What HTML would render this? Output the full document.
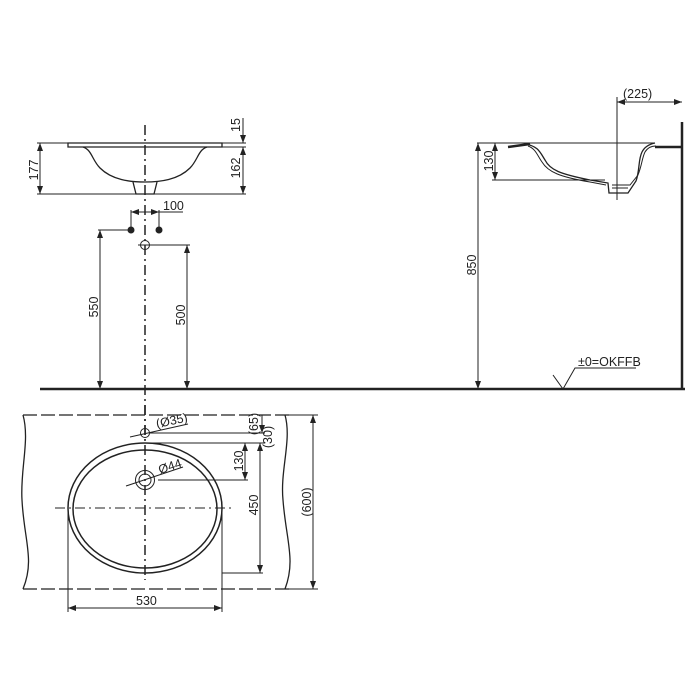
<!DOCTYPE html>
<html><head><style>body{margin:0;background:#fff}svg{display:block}text{font-family:"Liberation Sans",sans-serif;font-size:12.5px;fill:#222}</style></head><body>
<svg width="700" height="700" viewBox="0 0 700 700" xmlns="http://www.w3.org/2000/svg">
<defs><marker id="a" markerWidth="8" markerHeight="6" refX="8" refY="3" orient="auto-start-reverse" markerUnits="userSpaceOnUse"><path d="M0,0 L8,3 L0,6z" fill="#222"/></marker></defs>
<g stroke="#222" fill="none" stroke-width="1">
<path d="M68,143 H222 V147 H68 Z" stroke-width="1.3"/>
<path d="M83,147 C92,150 92,160 100,168 C112,180 130,182 145,182 C160,182 178,180 190,168 C198,160 198,150 207,147" stroke-width="1.3"/>
<path d="M133,182 L136,194 H154 L157,182" stroke-width="1.3"/>
<line x1="37" y1="143" x2="246" y2="143"/><line x1="222" y1="147" x2="246" y2="147"/>
<line x1="37" y1="194" x2="246" y2="194"/>
<line x1="40" y1="143" x2="40" y2="194" marker-start="url(#a)" marker-end="url(#a)"/>
<line x1="243" y1="118" x2="243" y2="143" marker-end="url(#a)"/>
<line x1="243" y1="147" x2="243" y2="194" marker-start="url(#a)" marker-end="url(#a)"/>
<line x1="145" y1="125" x2="145" y2="440" stroke-dasharray="10,4,2,4" stroke-width="1.5"/>
<line x1="131" y1="210" x2="131" y2="230"/><line x1="159" y1="210" x2="159" y2="230"/>
<line x1="131" y1="212" x2="159" y2="212" marker-start="url(#a)" marker-end="url(#a)"/>
<line x1="159" y1="212" x2="183" y2="212"/>
<line x1="98" y1="230" x2="131" y2="230"/>
<line x1="100" y1="230" x2="100" y2="389" marker-start="url(#a)" marker-end="url(#a)"/>
<circle cx="145" cy="245" r="4.5"/><line x1="138" y1="245" x2="190" y2="245"/>
<line x1="187" y1="245" x2="187" y2="389" marker-start="url(#a)" marker-end="url(#a)"/>
<line x1="40" y1="389" x2="685" y2="389" stroke-width="2.5"/>
<line x1="682" y1="122" x2="682" y2="389" stroke-width="2.5"/>
<line x1="477" y1="143" x2="655" y2="143"/>
<line x1="617" y1="97" x2="617" y2="200"/>
<line x1="617" y1="102" x2="682" y2="102" marker-start="url(#a)" marker-end="url(#a)"/>
<line x1="478" y1="143" x2="478" y2="389" marker-start="url(#a)" marker-end="url(#a)"/>
<line x1="492" y1="180" x2="605" y2="180"/>
<line x1="495" y1="143" x2="495" y2="180" marker-start="url(#a)" marker-end="url(#a)"/>
<path d="M508,147 L530,144" stroke-width="2.5"/>
<path d="M655,147 H682" stroke-width="2.5"/>
<path d="M525,144 C538,146 540,152 545,160 C550,170 560,174 590,180 L608,183 L609,193 H628 L636,181 C640,170 638,160 642,152 C645,146 650,144 655,143" stroke-width="1.3"/>
<path d="M528,146 C536,149 537,155 542,162 C548,172 560,177 590,182 L606,185 M612,185 H630 L638,175 C642,165 642,158 645,152 C648,147 652,146 656,146" stroke-width="1"/>
<path d="M612,188 H628" />
<path d="M553,375 L563,389 L575,368 H636"/>
<line x1="23" y1="415" x2="290" y2="415" stroke-dasharray="14,4" stroke-width="1.3"/>
<line x1="23" y1="589" x2="290" y2="589" stroke-dasharray="14,4" stroke-width="1.3"/>
<path d="M23,415 C30,440 20,470 22,500 C24,540 35,560 23,589" stroke-width="1.3"/>
<path d="M285,415 C292,440 280,470 283,500 C286,540 296,560 285,589" stroke-width="1.3"/>
<line x1="285" y1="415" x2="318" y2="415"/><line x1="285" y1="589" x2="318" y2="589"/>
<line x1="313" y1="415" x2="313" y2="589" marker-start="url(#a)" marker-end="url(#a)"/>
<ellipse cx="145" cy="508" rx="77" ry="65" stroke-width="1.5"/>
<ellipse cx="145" cy="509" rx="72" ry="59" stroke-width="1.5"/>
<line x1="55" y1="508" x2="232" y2="508" stroke-dasharray="10,4,2,4"/>
<line x1="145" y1="405" x2="145" y2="580" stroke-dasharray="10,4,2,4" stroke-width="1.5"/>
<circle cx="145" cy="433" r="4.5"/>
<line x1="130" y1="437" x2="188" y2="424"/>
<line x1="150" y1="433" x2="265" y2="433"/>
<circle cx="145" cy="480" r="9.5"/><circle cx="145" cy="480" r="6"/>
<line x1="126" y1="486" x2="183" y2="467"/>
<line x1="158" y1="480" x2="248" y2="480"/>
<line x1="145" y1="443" x2="265" y2="443"/>
<line x1="245" y1="443" x2="245" y2="480" marker-start="url(#a)" marker-end="url(#a)"/>
<line x1="222" y1="573" x2="263" y2="573"/>
<line x1="260" y1="443" x2="260" y2="573" marker-start="url(#a)" marker-end="url(#a)"/>
<line x1="262" y1="415" x2="262" y2="433" marker-end="url(#a)"/>
<line x1="68" y1="508" x2="68" y2="612"/><line x1="222" y1="508" x2="222" y2="612"/>
<line x1="68" y1="608" x2="222" y2="608" marker-start="url(#a)" marker-end="url(#a)"/>
</g>
<g fill="#222">
<circle cx="131" cy="230" r="3.5"/><circle cx="159" cy="230" r="3.5"/>
</g>
<text transform="translate(38,170) rotate(-90)" text-anchor="middle">177</text>
<text transform="translate(240,125) rotate(-90)" text-anchor="middle">15</text>
<text transform="translate(240,168) rotate(-90)" text-anchor="middle">162</text>
<text x="163" y="210">100</text>
<text transform="translate(98,307) rotate(-90)" text-anchor="middle">550</text>
<text transform="translate(185,315) rotate(-90)" text-anchor="middle">500</text>
<text x="623" y="98">(225)</text>
<text transform="translate(476,265) rotate(-90)" text-anchor="middle">850</text>
<text transform="translate(493,161) rotate(-90)" text-anchor="middle">130</text>
<text x="578" y="366">±0=OKFFB</text>
<text transform="translate(157,428) rotate(-12)">(Ø35)</text>
<text transform="translate(160,474) rotate(-18)">Ø44</text>
<text transform="translate(243,461) rotate(-90)" text-anchor="middle">130</text>
<text transform="translate(258,505) rotate(-90)" text-anchor="middle">450</text>
<text transform="translate(258,424) rotate(-90)" text-anchor="middle">(65)</text>
<text transform="translate(272,437) rotate(-90)" text-anchor="middle">(30)</text>
<text transform="translate(311,502) rotate(-90)" text-anchor="middle">(600)</text>
<text x="136" y="605">530</text>
</svg>
</body></html>
